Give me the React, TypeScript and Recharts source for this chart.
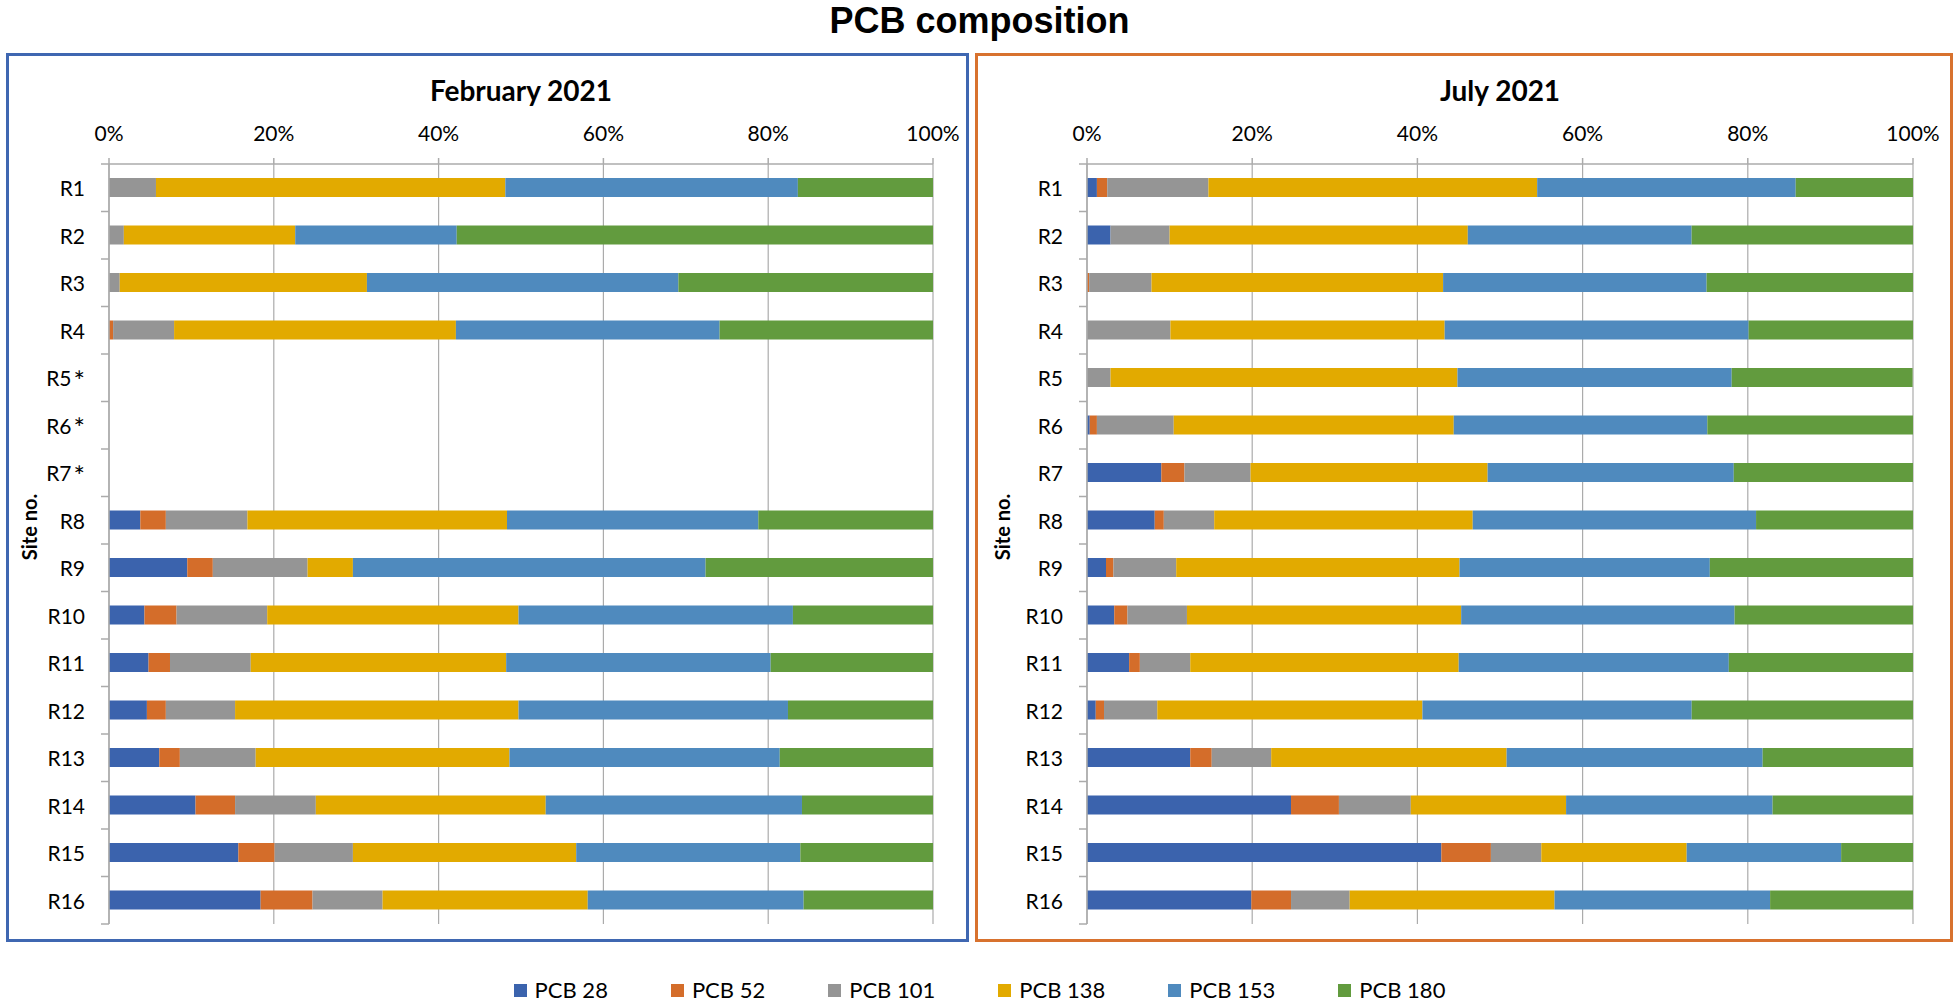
import { BarChart, Bar, XAxis, YAxis, CartesianGrid } from 'recharts';

const febSites = ['R1', 'R2', 'R3', 'R4', 'R5*', 'R6*', 'R7*', 'R8', 'R9', 'R10', 'R11', 'R12', 'R13', 'R14', 'R15', 'R16'];
const julSites = ['R1', 'R2', 'R3', 'R4', 'R5', 'R6', 'R7', 'R8', 'R9', 'R10', 'R11', 'R12', 'R13', 'R14', 'R15', 'R16'];

// February 2021, % of total PCB (R5-R7 not sampled)
const febPcb28 = [0, 0, 0, 0, null, null, null, 3.8, 9.5, 4.3, 4.8, 4.6, 6.1, 10.5, 15.7, 18.4];
const febPcb52 = [0, 0, 0, 0.5, null, null, null, 3.1, 3.1, 3.9, 2.6, 2.3, 2.5, 4.8, 4.4, 6.3];
const febPcb101 = [5.7, 1.8, 1.3, 7.4, null, null, null, 9.9, 11.5, 11.0, 9.8, 8.4, 9.2, 9.8, 9.5, 8.5];
const febPcb138 = [42.4, 20.8, 30.0, 34.2, null, null, null, 31.5, 5.5, 30.5, 31.0, 34.4, 30.8, 27.9, 27.1, 24.9];
const febPcb153 = [35.5, 19.6, 37.8, 32.0, null, null, null, 30.5, 42.8, 33.3, 32.1, 32.7, 32.8, 31.1, 27.2, 26.2];
const febPcb180 = [16.4, 57.8, 30.9, 25.9, null, null, null, 21.2, 27.6, 17.0, 19.7, 17.6, 18.6, 15.9, 16.1, 15.7];

// July 2021
const julPcb28 = [1.2, 2.85, 0, 0, 0, 0.33, 9.0, 8.2, 2.3, 3.3, 5.1, 1.06, 12.5, 24.7, 42.9, 19.9];
const julPcb52 = [1.25, 0, 0.26, 0, 0, 0.87, 2.8, 1.1, 0.9, 1.6, 1.3, 1.0, 2.6, 5.8, 6.0, 4.8];
const julPcb101 = [12.25, 7.15, 7.55, 10.1, 2.85, 9.3, 8.0, 6.1, 7.6, 7.2, 6.1, 6.45, 7.2, 8.7, 6.1, 7.1];
const julPcb138 = [39.8, 36.1, 35.3, 33.2, 42.0, 33.9, 28.7, 31.3, 34.3, 33.2, 32.5, 32.1, 28.5, 18.8, 17.6, 24.8];
const julPcb153 = [31.3, 27.1, 31.9, 36.8, 33.2, 30.7, 29.8, 34.3, 30.3, 33.1, 32.7, 32.6, 31.0, 25.0, 18.7, 26.1];
const julPcb180 = [14.2, 26.8, 25.0, 19.9, 21.9, 24.9, 21.7, 19.0, 24.6, 21.6, 22.3, 26.8, 18.2, 17.0, 8.7, 17.3];

const xTicks = [0, 20, 40, 60, 80, 100];

const SERIES = [
  { key: 'pcb28', name: 'PCB 28', color: '#3B63AD' },
  { key: 'pcb52', name: 'PCB 52', color: '#D46D2A' },
  { key: 'pcb101', name: 'PCB 101', color: '#959595' },
  { key: 'pcb138', name: 'PCB 138', color: '#E2AA00' },
  { key: 'pcb153', name: 'PCB 153', color: '#4F8ABE' },
  { key: 'pcb180', name: 'PCB 180', color: '#629B3E' },
];

const FONT = 'Lato, "Open Sans", sans-serif';
const GRID = '#ABABAB';
const PLOT_H = 760;
const BAND = PLOT_H / 16;

const buildRows = (sites: string[], cols: (number | null)[][]) =>
  sites.map((site, i) => ({
    site,
    pcb28: cols[0][i],
    pcb52: cols[1][i],
    pcb101: cols[2][i],
    pcb138: cols[3][i],
    pcb153: cols[4][i],
    pcb180: cols[5][i],
  }));

const febData = buildRows(febSites, [febPcb28, febPcb52, febPcb101, febPcb138, febPcb153, febPcb180]);
const julData = buildRows(julSites, [julPcb28, julPcb52, julPcb101, julPcb138, julPcb153, julPcb180]);

const SiteTick = (props: any) => {
  const { x, y, payload, index } = props;
  const last = index === 15;
  const label: string = payload.value;
  const star = label.endsWith('*');
  return (
    <g>
      <text x={x - 24} y={y} textAnchor="end" dominantBaseline="central" fontFamily={FONT} fontSize={21} fill="#000">
        {star ? label.slice(0, -1) : label}
        {star && (
          <tspan fontSize={27} dx={2} dy={2}>
            *
          </tspan>
        )}
      </text>
      <line x1={x - 8} x2={x} y1={y - BAND / 2} y2={y - BAND / 2} stroke={GRID} strokeWidth={1.5} />
      {last && <line x1={x - 8} x2={x} y1={y + BAND / 2} y2={y + BAND / 2} stroke={GRID} strokeWidth={1.5} />}
    </g>
  );
};

interface PanelProps {
  data: any[];
  left: number;
  width: number;
  yAxisWidth: number;
  rightMargin: number;
}

function Panel({ data, left, width, yAxisWidth, rightMargin }: PanelProps) {
  return (
    <div style={{ position: 'absolute', left, top: 54 }}>
      <BarChart
        layout="vertical"
        width={width}
        height={887}
        data={data}
        margin={{ top: 70, right: rightMargin, bottom: 17, left: 0 }}
        barSize={19}
      >
        <CartesianGrid horizontal={false} stroke={GRID} strokeWidth={1.2} />
        <XAxis
          type="number"
          orientation="top"
          domain={[0, 100]}
          ticks={xTicks}
          allowDataOverflow
          height={40}
          tickFormatter={(v: number) => `${v}%`}
          tick={{ fontFamily: FONT, fontSize: 21, fill: '#000' }}
          axisLine={{ stroke: GRID, strokeWidth: 1.5 }}
          tickLine={{ stroke: GRID, strokeWidth: 1.5 }}
          tickSize={6}
          tickMargin={17}
        />
        <YAxis
          type="category"
          dataKey="site"
          width={yAxisWidth}
          axisLine={{ stroke: GRID, strokeWidth: 1.5 }}
          tickLine={false}
          tickSize={0}
          tickMargin={0}
          interval={0}
          tick={<SiteTick />}
        />
        {SERIES.map(s => (
          <Bar key={s.key} dataKey={s.key} name={s.name} stackId="a" fill={s.color} isAnimationActive={false} />
        ))}
      </BarChart>
    </div>
  );
}

export default function App() {
  const frame = (left: number, width: number, color: string) => (
    <div
      style={{
        position: 'absolute',
        left,
        top: 53,
        width: width - 6,
        height: 889 - 6,
        border: `3px solid ${color}`,
        pointerEvents: 'none',
      }}
    />
  );
  const panelTitle = (text: string, cx: number) => (
    <div
      style={{
        position: 'absolute',
        left: cx - 200,
        width: 400,
        top: 90 - 14,
        textAlign: 'center',
        fontFamily: FONT,
        fontWeight: 700,
        fontSize: 28,
        lineHeight: '28px',
        color: '#000',
      }}
    >
      {text}
    </div>
  );
  const siteLabel = (cx: number) => (
    <div
      style={{
        position: 'absolute',
        left: cx - 60,
        top: 527 - 12,
        width: 120,
        height: 24,
        lineHeight: '24px',
        textAlign: 'center',
        transform: 'rotate(-90deg)',
        fontFamily: FONT,
        fontWeight: 700,
        fontSize: 20,
        color: '#000',
      }}
    >
      Site no.
    </div>
  );

  return (
    <div style={{ position: 'absolute', left: 0, top: 0, width: 1959, height: 1004, background: '#fff', overflow: 'hidden' }}>
      <div
        style={{
          position: 'absolute',
          left: 0,
          width: 1959,
          top: 3,
          textAlign: 'center',
          fontFamily: '"Liberation Sans", Arial, sans-serif',
          fontWeight: 700,
          fontSize: 36,
          lineHeight: '36px',
          color: '#000',
        }}
      >
        PCB composition
      </div>

      <Panel data={febData} left={0} width={969} yAxisWidth={109} rightMargin={36} />
      <Panel data={julData} left={975} width={978} yAxisWidth={112} rightMargin={40} />

      {frame(6, 963, '#3F67B1')}
      {frame(975, 978, '#D8722E')}

      {panelTitle('February 2021', 521)}
      {panelTitle('July 2021', 1500)}
      {siteLabel(29)}
      {siteLabel(1002)}

      <div
        style={{
          position: 'absolute',
          left: 0,
          width: 1959,
          top: 977,
          display: 'flex',
          justifyContent: 'center',
          gap: 63,
          fontFamily: FONT,
          fontSize: 22,
          lineHeight: '26px',
          color: '#000',
        }}
      >
        {SERIES.map(s => (
          <div key={s.key} style={{ display: 'flex', alignItems: 'center', gap: 8 }}>
            <span style={{ width: 13, height: 13, background: s.color, display: 'inline-block' }} />
            <span>{s.name}</span>
          </div>
        ))}
      </div>
    </div>
  );
}
